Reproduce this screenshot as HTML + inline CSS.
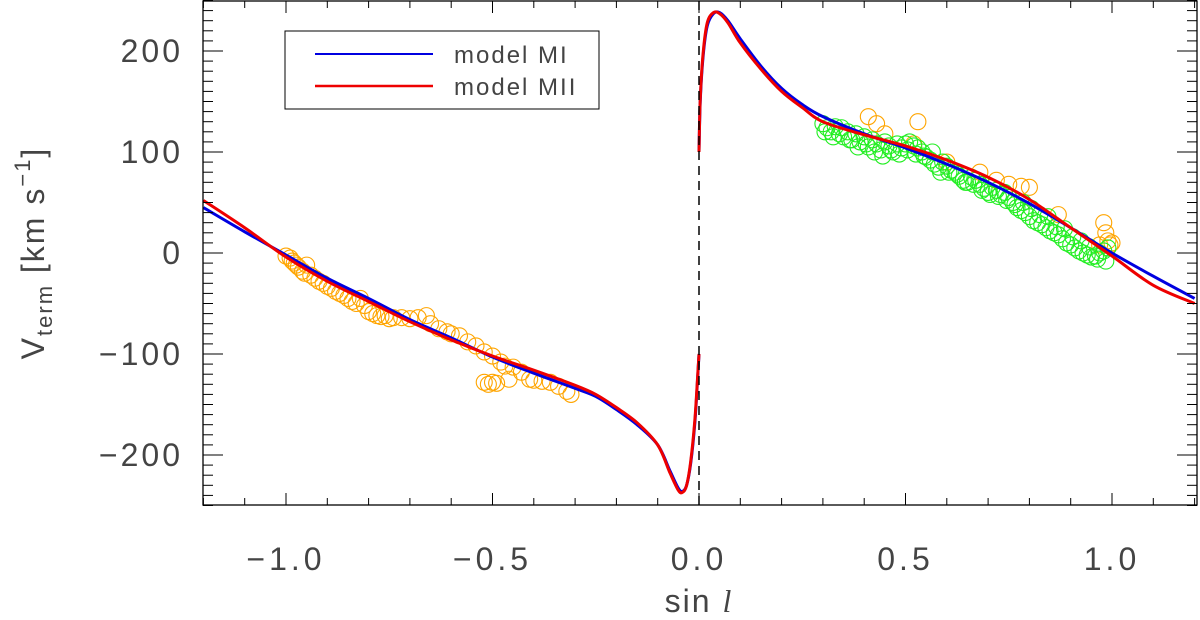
<!DOCTYPE html>
<html><head><meta charset="utf-8"><style>
body{margin:0;background:#fff;}
svg{display:block;font-family:"Liberation Sans",sans-serif;}
</style></head><body>
<svg id="chart" width="1200" height="620"></svg>
<script>
const xTicksMajor=[-1.0,-0.5,0.0,0.5,1.0];
const xTickLabels=["\u22121.0","\u22120.5","0.0","0.5","1.0"];
const yTicksMajor=[200,100,0,-100,-200];
const yTickLabels=["200","100","0","\u2212100","\u2212200"];
const blueNegX=[-1.2,-1.1,-1.0,-0.9,-0.8,-0.7,-0.6,-0.5,-0.4,-0.3,-0.25,-0.2,-0.15,-0.1,-0.07,-0.05,-0.04,-0.03,-0.02,-0.01,-0.003,0];
const blueNegV=[45,21,-2,-25,-45,-66,-84,-103,-119,-134,-142,-155,-170,-190,-216,-233,-236,-230,-208,-168,-122,-100];
const redNegX=[-1.2,-1.1,-1.0,-0.9,-0.8,-0.7,-0.6,-0.5,-0.4,-0.3,-0.25,-0.2,-0.15,-0.1,-0.07,-0.05,-0.04,-0.03,-0.02,-0.01,-0.003,0];
const redNegV=[52,25,-4,-28,-48,-68,-86,-102,-116,-131,-140,-153,-168,-190,-218,-235,-237,-230,-206,-165,-120,-100];
const bluePosX=[0,0.003,0.01,0.02,0.035,0.05,0.07,0.1,0.15,0.2,0.25,0.3,0.4,0.5,0.6,0.7,0.8,0.9,1.0,1.1,1.2];
const bluePosV=[100,150,195,225,237,238,230,212,185,163,147,135,118,104,88,70,49,25,0,-23,-45];
const redPosX=[0,0.003,0.01,0.02,0.035,0.05,0.07,0.1,0.15,0.2,0.25,0.3,0.4,0.5,0.6,0.7,0.8,0.9,1.0,1.1,1.2];
const redPosV=[100,152,198,228,238,237,228,208,182,160,144,130,117,106,92,75,53,25,-3,-32,-50];
const orangeX=[-1.0,-0.99,-0.985,-0.98,-0.975,-0.97,-0.96,-0.955,-0.95,-0.94,-0.93,-0.92,-0.91,-0.90,-0.89,-0.88,-0.87,-0.86,-0.85,-0.84,-0.83,-0.82,-0.81,-0.80,-0.79,-0.78,-0.77,-0.76,-0.75,-0.74,-0.72,-0.70,-0.68,-0.66,-0.65,-0.63,-0.61,-0.60,-0.58,-0.56,-0.54,-0.52,-0.50,-0.48,-0.47,-0.52,-0.51,-0.50,-0.49,-0.46,-0.45,-0.43,-0.41,-0.40,-0.38,-0.36,-0.34,-0.32,-0.31,
0.41,0.43,0.53,0.45,0.52,0.60,0.68,0.72,0.75,0.78,0.80,0.87,0.98,0.985,0.99,0.995,1.0,0.97];
const orangeV=[-3,-5,-8,-10,-12,-14,-18,-20,-12,-22,-25,-28,-30,-33,-35,-38,-40,-42,-45,-48,-50,-45,-52,-58,-60,-62,-63,-62,-65,-64,-64,-65,-64,-62,-70,-75,-78,-80,-82,-88,-92,-98,-102,-108,-112,-128,-130,-128,-129,-125,-113,-118,-125,-126,-127,-128,-132,-137,-140,
135,128,130,118,108,90,80,72,68,66,65,38,30,20,12,8,10,8];
const greenX=[0.30,0.31,0.32,0.33,0.34,0.35,0.36,0.37,0.38,0.39,0.40,0.41,0.42,0.43,0.44,0.45,0.46,0.47,0.48,0.49,0.50,0.51,0.52,0.53,0.54,0.55,0.56,0.57,0.58,0.59,0.60,0.61,0.62,0.63,0.64,0.65,0.66,0.67,0.68,0.69,0.70,0.71,0.72,0.73,0.74,0.75,0.76,0.77,0.78,0.79,0.80,0.81,0.82,0.83,0.84,0.85,0.86,0.87,0.88,0.89,0.90,0.91,0.92,0.93,0.94,0.95,0.96,0.97,0.98,0.99,
0.305,0.325,0.345,0.365,0.385,0.405,0.425,0.445,0.465,0.485,0.505,0.525,0.545,0.565,0.585,0.605,0.625,0.645,0.665,0.685,0.705,0.725,0.745,0.765,0.785,0.805,0.825,0.845,0.865,0.885,0.905,0.925,0.945,0.965,0.985];
const greenV=[128,124,120,125,118,115,120,112,118,110,115,105,112,108,102,110,106,100,108,104,108,110,106,104,100,95,92,88,85,90,86,82,80,76,72,70,75,72,68,64,60,65,62,58,60,55,50,45,42,40,36,32,30,28,25,22,20,18,14,10,8,5,2,0,-2,-4,-3,0,2,5,
120,115,124,112,105,108,100,96,102,98,102,98,96,100,80,80,78,70,68,62,58,56,52,48,50,44,38,36,26,24,16,12,6,-6,-8];

const NS="http://www.w3.org/2000/svg";
const svg=document.getElementById('chart');
const L=203,R=1197,T=1,B=505;
const xs=v=>699+413*v;
const ys=v=>253-1.01*v;
function mk(tag,attrs,parent){const e=document.createElementNS(NS,tag);for(const k in attrs)e.setAttribute(k,attrs[k]);(parent||svg).appendChild(e);return e;}
const clip=mk('clipPath',{id:'pc'});mk('rect',{x:L,y:T,width:R-L,height:B-T},clip);
const plot=mk('g',{'clip-path':'url(#pc)'});


function scatter(X,V,col,name){const g=mk('g',{},plot);


for(let i=0;i<X.length;i++){const c=mk('circle',{cx:xs(X[i]),cy:ys(V[i]),r:8,fill:'none',stroke:col,'stroke-width':1.1},g);

}}
scatter(orangeX,orangeV,'#ffa500','orange-data');
scatter(greenX,greenV,'#22ee22','green-data');
function spline(X,V){const p=X.map((x,i)=>[xs(x),ys(V[i])]);let d='M'+p[0][0]+','+p[0][1];
for(let i=0;i<p.length-1;i++){const p0=p[Math.max(0,i-1)],p1=p[i],p2=p[i+1],p3=p[Math.min(p.length-1,i+2)];
const c1=[p1[0]+(p2[0]-p0[0])/6,p1[1]+(p2[1]-p0[1])/6],c2=[p2[0]-(p3[0]-p1[0])/6,p2[1]-(p3[1]-p1[1])/6];
d+=` C${c1[0]},${c1[1]} ${c2[0]},${c2[1]} ${p2[0]},${p2[1]}`;}return d;}
function curve(X,V,col,name){const e=mk('path',{d:spline(X,V),fill:'none',stroke:col,'stroke-width':3},plot);

}
curve(blueNegX,blueNegV,'#0000e0','model-mi-curve-negative');
curve(bluePosX,bluePosV,'#0000e0','model-mi-curve-positive');
curve(redNegX,redNegV,'#ee0000','model-mii-curve-negative');
curve(redPosX,redPosV,'#ee0000','model-mii-curve-positive');
const dl=mk('line',{x1:xs(0),x2:xs(0),y1:T,y2:B,stroke:'#000','stroke-width':1.5,'stroke-dasharray':'9,6'});


const fr=mk('rect',{x:L,y:T,width:R-L,height:B-T,fill:'none',stroke:'#000','stroke-width':1.3});


const tk=mk('g',{stroke:'#000','stroke-width':1});


for(let k=-12;k<=12;k++){const x=xs(k/10),len=(k%5===0)?12:7;
mk('line',{x1:x,x2:x,y1:B,y2:B-len},tk);mk('line',{x1:x,x2:x,y1:T,y2:T+len},tk);}
for(let v=-250;v<=250;v+=10){const y=ys(v),len=(v%100===0)?20:10;
mk('line',{x1:L,x2:L+len,y1:y,y2:y},tk);mk('line',{x1:R,x2:R-len,y1:y,y2:y},tk);}
xTicksMajor.forEach((v,i)=>{const t=mk('text',{x:xs(v),y:570,'text-anchor':'middle','font-size':32,fill:'#444','letter-spacing':4});t.textContent=xTickLabels[i];

});
yTicksMajor.forEach((v,i)=>{const t=mk('text',{x:183,y:ys(v)+11,'text-anchor':'end','font-size':32,fill:'#444','letter-spacing':3});t.textContent=yTickLabels[i];

});
const xt=mk('text',{x:699,y:612,'text-anchor':'middle','font-size':32,fill:'#444','letter-spacing':2});
xt.innerHTML='sin  <tspan font-family="Liberation Serif" font-style="italic">l</tspan>';


const yt=mk('text',{transform:'translate(44,253) rotate(-90)','text-anchor':'middle','font-size':32,fill:'#444','letter-spacing':2});
yt.innerHTML='V<tspan font-size="22" dy="8">term</tspan><tspan dy="-8"> [km  s</tspan><tspan font-size="22" dy="-14">\u22121</tspan><tspan dy="14">]</tspan>';


const lg=mk('g',{});


mk('rect',{x:285,y:31,width:314,height:78,fill:'#fff',stroke:'#000','stroke-width':1},lg);
mk('line',{x1:315,x2:433,y1:54,y2:54,stroke:'#0000e0','stroke-width':2},lg);
mk('line',{x1:315,x2:433,y1:86,y2:86,stroke:'#ee0000','stroke-width':2.5},lg);
const l1=mk('text',{x:454,y:63,'font-size':24,fill:'#444','letter-spacing':2},lg);l1.textContent='model  MI';


const l2=mk('text',{x:454,y:95,'font-size':24,fill:'#444','letter-spacing':2},lg);l2.textContent='model  MII';


</script>
</body></html>
